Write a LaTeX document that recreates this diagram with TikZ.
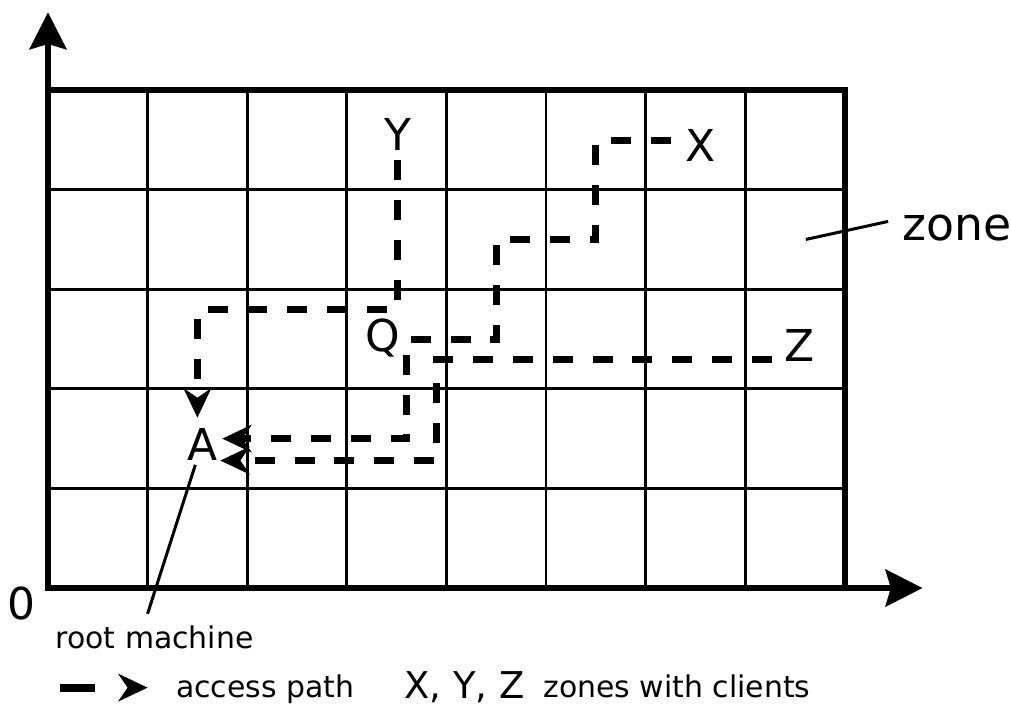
\documentclass[tikz,border=0pt]{standalone}
\usepackage{fontspec}
\setmainfont{DejaVu Sans}
\usetikzlibrary{arrows.meta}

\begin{document}
\begin{tikzpicture}[x=0.996cm, y=0.996cm,
    axis/.style={line width=1.7pt, {Stealth[length=10.5pt, width=10.5pt, inset=1.5pt]}-{Stealth[length=10.5pt, width=10.5pt, inset=1.5pt]}},
    frame/.style={line width=1.7pt},
    cell/.style={line width=0.85pt},
    access/.style={line width=2pt, dash pattern=on 5.67pt off 5.67pt, -{Stealth[length=8.3pt, width=7.8pt, inset=2.6pt]}},
    lead/.style={line width=0.85pt},
    big/.style={font=\fontsize{12.5}{15}\selectfont, inner sep=1pt},
    small/.style={font=\fontsize{8.5}{10}\selectfont}]
\useasboundingbox (-0.482,-1.165) rectangle (9.669,5.904);

% zones
\foreach \i in {1,...,7} \draw[cell] (\i,0)--(\i,5);
\foreach \j in {1,...,4} \draw[cell] (0,\j)--(8,\j);
\draw[frame] (0,5)--(8,5)--(8,0);
\draw[axis] (0,5.78)--(0,0)--(8.78,0);

\node[big] (O) at (-0.27,-0.16) {0};
\node[big] (Y) at (3.51,4.55) {Y};
\node[big] (X) at (6.55,4.44) {X};
\node[big] (Z) at (7.55,2.44) {Z};
\node[big, anchor=base] (Q) at (3.36,2.37) {Q};
\node[big] (A) at (1.55,1.44) {A};
\node[big, font=\fontsize{13}{15}\selectfont] (zone) at (9.13,3.61) {zone};
\node[small] (root) at (1.07,-0.5) {root machine};

% access paths
\coordinate (ya) at (1.5,1.71);
\coordinate (xa) at (1.75,1.5);
\coordinate (za) at (1.73,1.28);
\draw[access] ([yshift=-1.5pt]Y.south) |- (1.5,2.8) -- (ya);
\draw[access] ([shift={(-3pt,1.5pt)}]X.west) -| (5.5,3.5) -| (4.5,2.5) -| (3.6,1.5) -- (xa);
\draw[access] ([shift={(-2.5pt,1.5pt)}]Z.south west) -| (3.9,1.28) -- (za);

% leaders
\coordinate (zc) at (7.61,3.5);
\draw[lead] (zc) -- ([shift={(-3pt,2pt)}]zone.west);
\draw[lead] ([xshift=-2pt]A.south) -- ([xshift=-2pt]root.north);

% legend
\draw[access, line width=2.3pt, dash pattern=on 10pt off 20pt] (0.12,-1) -- (1,-1);
\node[small, anchor=base] (pathtxt) at (2.18,-1.104) {access path};
\node[small, anchor=base, font=\fontsize{10.5}{12}\selectfont] (xyz) at (4.18,-1.11) {X, Y, Z};
\node[small, anchor=base] (clients) at (6.315,-1.104) {zones with clients};

\end{tikzpicture}
\end{document}
